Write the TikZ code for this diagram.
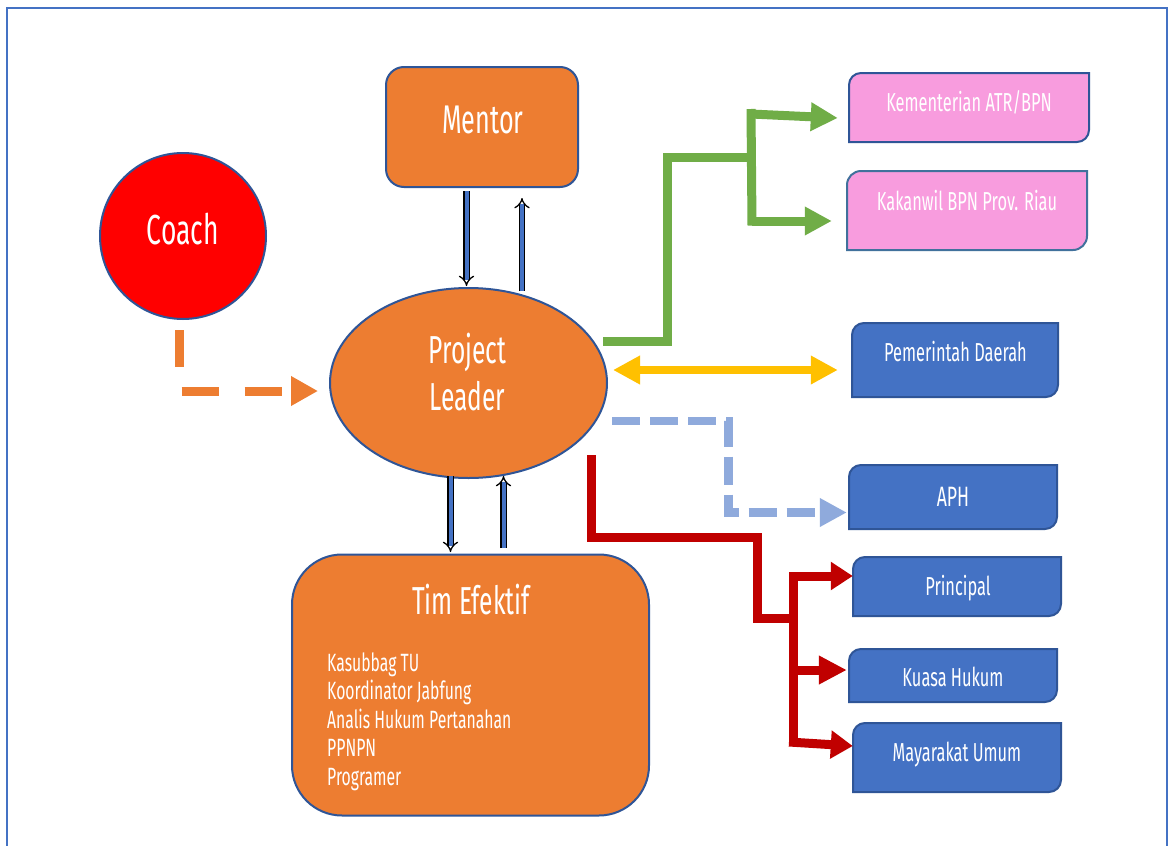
\documentclass[tikz,border=0pt]{standalone}
\usepackage{fontspec}
\setmainfont{Fira Sans}[FakeStretch=0.63]
\usetikzlibrary{shapes.geometric,arrows.meta,calc}

\definecolor{cOrange}{HTML}{ED7D31}
\definecolor{cEdge}{HTML}{2F5597}
\definecolor{cEdgeB}{HTML}{41719C}
\definecolor{cBlue}{HTML}{4472C4}
\definecolor{cPink}{HTML}{F89CDE}
\definecolor{cRed}{HTML}{FF0000}
\definecolor{cGreen}{HTML}{70AD47}
\definecolor{cGold}{HTML}{FFC000}
\definecolor{cSky}{HTML}{8FAADC}
\definecolor{cDarkRed}{HTML}{C00000}

\tikzset{
  outline/.style={draw=cEdge, line width=2pt},
  lbl/.style={text=white, inner sep=0pt, anchor=base},
  big/.style={font=\fontsize{40}{48}\selectfont},
  mid/.style={font=\fontsize{26}{30}\selectfont},
  small/.style={font=\fontsize{25}{28}\selectfont},
  pair/.style={draw=black, line width=1.3pt, double=cBlue, double distance=4pt,
    -{Implies}},
  thick link/.style={line width=9pt, line cap=butt},
  headtip/.style={-{Triangle[length=27pt,width=27pt]}},
}

% box with rounded top-left and bottom-right corners:
% name, x1, y1, x2, y2, radius, fill, outline colour
\newcommand{\cornerbox}[8]{%
  \path[draw=#8, line width=2pt, fill=#7]
    (#2,#5) -- (#2,#3+#6)
    .. controls (#2,#3+0.448*#6) and (#2+0.448*#6,#3) .. (#2+#6,#3)
    -- (#4,#3) -- (#4,#5-#6)
    .. controls (#4,#5-0.448*#6) and (#4-0.448*#6,#5) .. (#4-#6,#5)
    -- cycle;
  \node[inner sep=0pt, minimum width={(#4-#2)*1pt}, minimum height={(#5-#3)*1pt}]
    (#1) at ({(#2+#4)/2},{(#3+#5)/2}) {};%
}

\begin{document}
\begin{tikzpicture}[x=1pt, y=-1pt]
\useasboundingbox (0,0) rectangle (1171,846);
\clip (0,0) rectangle (1171,846);
\fill[white] (0,0) rectangle (1171,846);

% page frame
\draw[cBlue, line width=2.5pt] (7,880) -- (7,8) -- (1167,8) -- (1167,880);

% main actors
\node[outline, fill=cOrange, rounded corners=18pt, minimum width=192pt,
  minimum height=120pt, inner sep=0pt] (mentor) at (482,127) {};
\node[lbl, big] (mentor-t) at (483,133) {Mentor};

\node[outline, fill=cRed, circle, minimum size=166pt, inner sep=0pt]
  (coach) at (183,236) {};
\node[lbl, font=\fontsize{42}{48}\selectfont] (coach-t) at (183,244) {Coach};

\node[outline, fill=cOrange, ellipse, minimum width=277pt, minimum height=190pt,
  inner sep=0pt] (pl) at (468.5,383) {};
\node[lbl, font=\fontsize{39}{46}\selectfont] (pl-t1) at (467.5,363) {Project};
\node[lbl, font=\fontsize{39}{46}\selectfont] (pl-t2) at (467.5,410) {Leader};

\node[outline, fill=cOrange, rounded corners=50pt, minimum width=357pt,
  minimum height=261pt, inner sep=0pt] (tim) at (470.5,553.5) [anchor=north] {};
\node[lbl, font=\fontsize{39}{46}\selectfont] (tim-t) at (471,614) {Tim Efektif};
\node[lbl, small, anchor=base west] (tim-1) at (327,671) {Kasubbag TU};
\node[lbl, small, anchor=base west] (tim-2) at (327,699.5) {Koordinator Jabfung};
\node[lbl, small, anchor=base west] (tim-3) at (327,728) {Analis Hukum Pertanahan};
\node[lbl, small, anchor=base west] (tim-4) at (327,756.5) {PPNPN};
\node[lbl, small, anchor=base west] (tim-5) at (327,785) {Programer};

% stakeholders
\cornerbox{kem}{849}{73}{1089}{142}{12}{cPink}{cEdge}
\node[lbl, mid] (kem-t) at (969,111) {Kementerian ATR/BPN};
\cornerbox{kak}{847}{171}{1087}{250}{14}{cPink}{cEdgeB}
\node[lbl, mid] (kak-t) at (967,210) {Kakanwil BPN Prov. Riau};
\cornerbox{pemda}{852}{323}{1058}{397}{12}{cBlue}{cEdge}
\node[lbl, mid] (pemda-t) at (955.5,361) {Pemerintah Daerah};
\cornerbox{aph}{849}{465}{1057}{529}{12}{cBlue}{cEdge}
\node[lbl, font=\fontsize{28}{32}\selectfont] (aph-t) at (953,506) {APH};
\cornerbox{prin}{853}{557}{1061}{616}{12}{cBlue}{cEdge}
\node[lbl, mid] (prin-t) at (958,595) {Principal};
\cornerbox{kuasa}{849}{649}{1057}{702}{12}{cBlue}{cEdge}
\node[lbl, mid] (kuasa-t) at (953,686) {Kuasa Hukum};
\cornerbox{umum}{853}{723}{1061}{792}{12}{cBlue}{cEdge}
\node[lbl, mid] (umum-t) at (957,761) {Mayarakat Umum};

% mentor <-> project leader
\draw[pair] ($(mentor.south)+(-15.5,3)$) -- ($(pl.north)+(-2,-1)$);
\draw[pair] ($(pl.north)+(53.5,4)$) -- ($(mentor.south)+(40,10)$);

% project leader <-> team
\draw[pair] ($(pl.south)+(-18,-3)$) -- ($(tim.north)+(-20,-1.5)$);
\draw[pair] ($(tim.north)+(33,-5.5)$) -- ($(pl.south)+(35,-3)$);

% coach to project leader
\draw[cOrange, thick link, dash pattern=on 37pt off 26pt,
  -{Triangle[length=27pt,width=28pt]}]
  ($(coach.south)+(-3.5,10)$) |- ($(pl.west)+(-11,8)$);

% reporting lines to the ministry and regional office
\draw[cGreen, thick link]
  ($(pl.east)+(-5,-41.5)$) -- (667.5,341.5) -- (667.5,157.5) -- (755,157.5);
\draw[cGreen, thick link] (751,109) -- (752,225.5);
\draw[cGreen, thick link, headtip] (751,114) -- ($(kem.west)+(-11,10.5)$);
\draw[cGreen, thick link, headtip] (752,221) -- ($(kak.west)+(-15,10.5)$);

% two-way link with local government
\draw[cGold, line width=8pt, {Triangle[length=27pt,width=27pt]}-{Triangle[length=27pt,width=27pt]}]
  ($(pl.east)+(5,-13)$) -- ($(pemda.west)+(-14,10)$);

% dashed link to APH
\draw[cSky, line width=8.5pt, dash pattern=on 28pt off 10pt, headtip]
  ($(pl.east)+(4,38)$) -- (728.5,421) -- (728.5,512.5) -- ($(aph.west)+(-2,15.5)$);

% lines to the parties of a case
\draw[cDarkRed, thick link]
  ($(pl.south)+(123,-24)$) -- (591.5,537.5) -- (757.5,537.5) -- (757.5,618) -- (797,618);
\draw[cDarkRed, thick link] (793,572) -- (793,745);
\draw[cDarkRed, thick link, -{Triangle[length=22pt,width=27pt]}]
  (789,576) -- ($(prin.west)+(0,-10.5)$);
\draw[cDarkRed, thick link, -{Triangle[length=28pt,width=27pt]}]
  (793,670) -- ($(kuasa.west)+(-2,-5.5)$);
\draw[cDarkRed, thick link, -{Triangle[length=22pt,width=27pt]}]
  (789,742) -- ($(umum.west)+(0,-11.5)$);
\end{tikzpicture}
\end{document}
